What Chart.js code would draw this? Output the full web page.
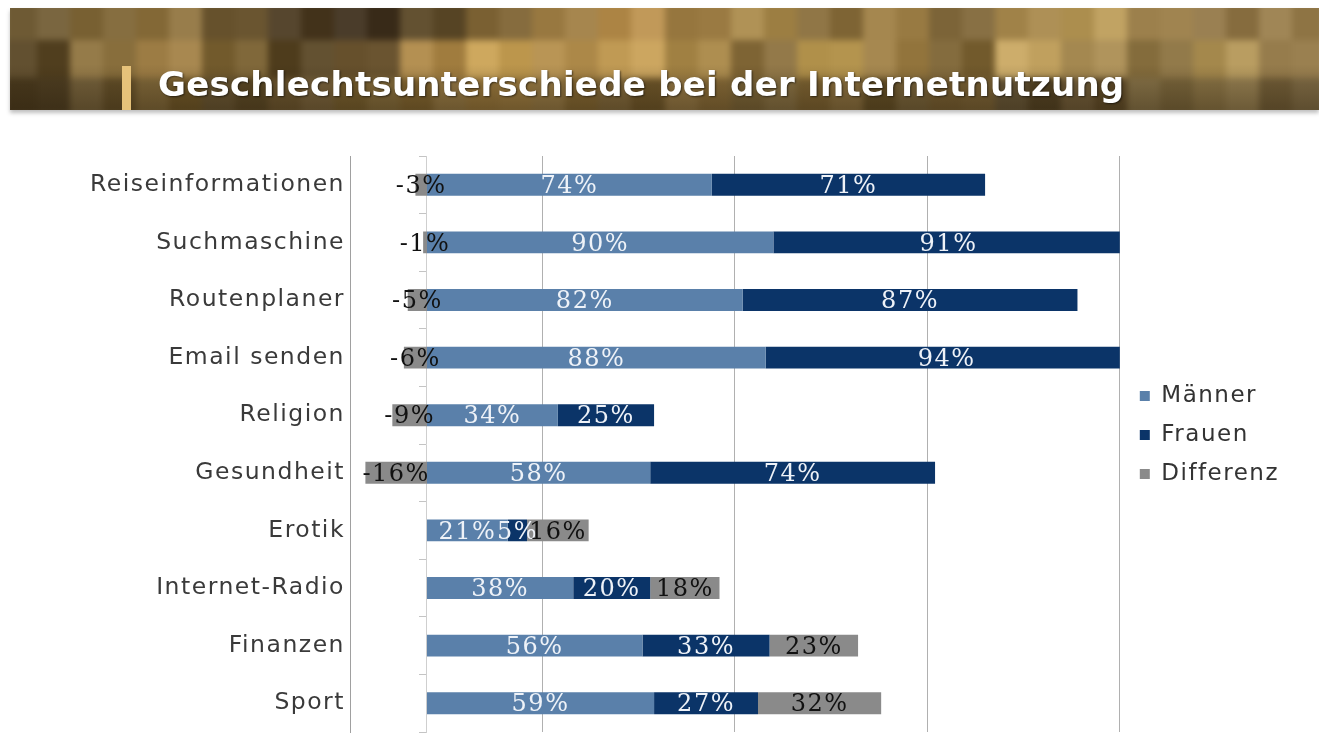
<!DOCTYPE html>
<html>
<head>
<meta charset="utf-8">
<script src="https://cdn.jsdelivr.net/npm/chart.js@4.4.1/dist/chart.umd.min.js"></script>
<style>
  html, body { margin: 0; padding: 0; background: #fff; }
  body { width: 1319px; height: 735px; position: relative; overflow: hidden; }
  #wrap { position: absolute; left: 0; top: 0; width: 1319px; height: 735px; }
  #banner { position: absolute; left: 10px; top: 8px; width: 1309px; height: 102px; overflow: hidden;
            box-shadow: 0 3px 4px rgba(0,0,0,0.25); }
  #mosaic { position: absolute; left: -6px; top: -6px; right: -6px; bottom: -6px; display: grid;
            grid-template-columns: repeat(40, 1fr); grid-template-rows: repeat(3, 1fr); filter: blur(3px); }
  #shade { position: absolute; left: 0; top: 0; right: 0; bottom: 0;
           background: linear-gradient(to bottom, rgba(0,0,0,0) 55%, rgba(30,20,5,0.35) 100%); }
  #goldbar { position: absolute; left: 112px; top: 58px; width: 9px; height: 44px; background: #e6c27a; }
  #title { position: absolute; left: 148px; top: 59px; font: bold 34px "DejaVu Sans"; line-height: 34px;
           letter-spacing: 0.25px; color: #fff; white-space: nowrap; text-shadow: 1px 1px 2px rgba(0,0,0,0.55); }
</style>
</head>
<body>
<div id="wrap"><canvas id="chart"></canvas></div>
<div id="banner">
  <div id="mosaic"></div>
  <div id="shade"></div>
  <div id="goldbar"></div>
  <div id="title">Geschlechtsunterschiede bei der Internetnutzung</div>
</div>
<script>
const categories = ['Reiseinformationen', 'Suchmaschine', 'Routenplaner', 'Email senden', 'Religion',
                    'Gesundheit', 'Erotik', 'Internet-Radio', 'Finanzen', 'Sport'];
const maenner   = [74, 90, 82, 88, 34, 58, 21, 38, 56, 59];
const frauen    = [71, 91, 87, 94, 25, 74, 5, 20, 33, 27];
const differenz = [-3, -1, -5, -6, -9, -16, 16, 18, 23, 32];
const xTicks = [-20, 30, 80, 130, 180];

// banner mosaic (decoration only)
const row1 = ['#6e5a34','#80683a','#8f7442','#6a5530','#4a3a22','#443624','#5a4828','#7a6032','#a08048','#b89050',
              '#9a7a42','#a4864a','#8a7040','#9c7e46','#7c6438','#a88a50','#b89a5a','#a08450','#8e7446','#9a8050'];
const row2 = ['#5c4a2a','#8c7240','#9c7c44','#7a6234','#5a4828','#6a5430','#a88446','#c8a258','#b08c4c','#c09a54',
              '#a8884a','#8a7040','#b4944e','#9a7c44','#7e6638','#c4a462','#a48850','#8c7444','#b09458','#9a8050'];
const row3 = ['#4e3e22','#6a5630','#7a6234','#5e4c2a','#6c5630','#7e6636','#8c703c','#9a7a40','#8a6e3a','#7a6236',
              '#8a6e3c','#7a6438','#846a3a','#6e5a32','#7a6236','#5a4a2c','#6a5634','#7e6a40','#8a7446','#7a6640'];
const shades = [0, 12, -8, 6, -12, 9, -4];
function shade(hex, d) {
  const n = parseInt(hex.slice(1), 16);
  const c = [n >> 16, (n >> 8) & 255, n & 255].map(v => Math.max(0, Math.min(255, v + d)));
  return 'rgb(' + c.join(',') + ')';
}
const mosaic = document.getElementById('mosaic');
[row1, row2, row3].forEach((row, r) => {
  for (let c = 0; c < 40; c++) {
    const d = document.createElement('div');
    d.style.background = shade(row[Math.floor(c / 2)], shades[(c + r * 3) % shades.length]);
    mosaic.appendChild(d);
  }
});

const labelColors = ['#eef2f8', '#eef2f8', '#111111'];

const spacing = {
  id: 'spacing',
  beforeLayout(chart) { chart.ctx.letterSpacing = '1.5px'; },
  afterLayout(chart) {
    // nudge the legend to where the original sits
    const lg = chart.legend;
    lg.top -= 9; lg.bottom -= 9;
    lg.left += 4; lg.right += 4;
  },
  beforeDraw(chart) { chart.ctx.letterSpacing = '1.5px'; }
};

const barLabels = {
  id: 'barLabels',
  afterDatasetsDraw(chart) {
    const ctx = chart.ctx;
    ctx.save();
    ctx.letterSpacing = '1.5px';
    ctx.font = '24px "DejaVu Serif"';
    ctx.textAlign = 'center';
    ctx.textBaseline = 'middle';
    chart.data.datasets.forEach((ds, i) => {
      chart.getDatasetMeta(i).data.forEach((bar, j) => {
        ctx.fillStyle = labelColors[i];
        ctx.fillText(ds.data[j] + '%', (bar.x + bar.base) / 2, bar.y + 2);
      });
    });
    ctx.restore();
  }
};

function noPad(scale) {
  scale.paddingTop = 0;
  scale.paddingBottom = 0;
}

new Chart(document.getElementById('chart'), {
  type: 'bar',
  data: {
    labels: categories,
    datasets: [
      { label: 'Männer', data: maenner, backgroundColor: '#5a80aa' },
      { label: 'Frauen', data: frauen, backgroundColor: '#0b3468' },
      { label: 'Differenz', data: differenz, backgroundColor: '#8a8a8a' }
    ]
  },
  options: {
    indexAxis: 'y',
    responsive: true,
    maintainAspectRatio: false,
    animation: false,
    categoryPercentage: 1,
    barPercentage: 0.38,
    layout: { padding: { top: 156, bottom: 3, left: 0, right: 34 } },
    plugins: {
      tooltip: { enabled: false },
      legend: {
        position: 'right',
        labels: {
          boxWidth: 10,
          boxHeight: 10,
          padding: 16,
          color: '#333',
          font: { size: 23, family: 'DejaVu Sans' }
        }
      }
    },
    scales: {
      x: {
        stacked: true,
        min: xTicks[0],
        max: xTicks[xTicks.length - 1],
        afterFit(scale) { scale.height = 0; },
        ticks: { display: false, stepSize: xTicks[1] - xTicks[0] },
        grid: { color: '#b0b0b0', drawTicks: false },
        border: { display: false }
      },
      y: {
        stacked: true,
        afterFit(scale) { scale.width = 350; noPad(scale); },
        ticks: { color: '#3a3a3a', padding: 5, font: { size: 23.5, family: 'DejaVu Sans' } },
        grid: { display: false, drawTicks: false },
        border: { color: '#a0a0a0' }
      },
      y2: {
        type: 'category',
        position: { x: 0 },
        offset: true,
        afterFit: noPad,
        ticks: { display: false },
        grid: { offset: true, drawOnChartArea: false, tickLength: 7, color: '#c4c4c4' },
        border: { color: '#cfcfcf' }
      }
    }
  },
  plugins: [spacing, barLabels]
});
</script>
</body>
</html>
